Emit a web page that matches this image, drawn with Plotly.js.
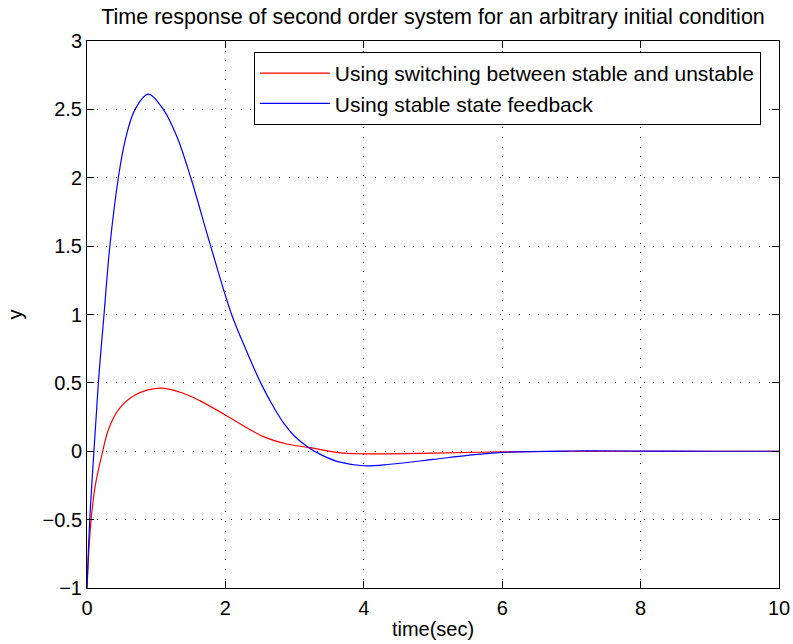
<!DOCTYPE html>
<html>
<head>
<meta charset="utf-8">
<script src="https://cdn.plot.ly/plotly-3.0.1.min.js"></script>
<style>html,body{margin:0;padding:0;background:#fff;}#chart{width:793px;height:644px;}</style>
</head>
<body>
<div id="chart"></div>
<script>
const tStable = [0, 0.04, 0.1, 0.164, 0.246, 0.332, 0.453, 0.55, 0.694, 0.886, 1.103, 1.3, 1.5, 1.787, 2.09, 2.3, 2.51, 2.7, 2.85, 3.0, 3.2, 3.4, 3.656, 4.0, 4.38, 5.0, 5.5, 6.0, 7, 8, 9, 10];
const yStable = [-1, -0.5, 0.0, 0.5, 1.0, 1.508, 2.0, 2.27, 2.5, 2.612, 2.5, 2.3, 2.0, 1.5, 1.0, 0.74, 0.5, 0.32, 0.2, 0.11, 0.028, -0.03, -0.08, -0.106, -0.095, -0.06, -0.03, -0.008, 0.002, 0.001, 0, 0];

const tSwitch = [0, 0.03, 0.06, 0.11, 0.164, 0.212, 0.308, 0.453, 0.694, 1.07, 1.416, 1.63, 2.066, 2.307, 2.548, 2.886, 3.198, 3.656, 3.99, 4.38, 5, 6, 7, 8, 10];
const ySwitch = [-1, -0.7, -0.5, -0.28, -0.137, -0.034, 0.155, 0.302, 0.411, 0.462, 0.419, 0.37, 0.245, 0.172, 0.107, 0.053, 0.028, -0.012, -0.019, -0.019, -0.013, -0.005, 0, 0, 0];

const seriesNames = ['Using switching between stable and unstable', 'Using stable state feedback'];
const xTicks = [0, 2, 4, 6, 8, 10];
const yTicks = [-1, -0.5, 0, 0.5, 1, 1.5, 2, 2.5, 3];

const font = {family: 'Liberation Sans, Arial, sans-serif', size: 20, color: '#000'};

const traces = [
  {x: tSwitch, y: ySwitch, name: seriesNames[0], mode: 'lines', line: {color: '#ff0000', width: 1.2, shape: 'spline', smoothing: 1}},
  {x: tStable, y: yStable, name: seriesNames[1], mode: 'lines', line: {color: '#0000ff', width: 1.2, shape: 'spline', smoothing: 1}}
];

const axisCommon = {
  showline: true, linecolor: '#000', linewidth: 1, mirror: 'ticks',
  ticks: 'inside', ticklen: 7, tickcolor: '#000',
  showgrid: true, gridcolor: '#000', griddash: '1px,8.6px', gridwidth: 1,
  zeroline: false, tickfont: font, automargin: false
};

const layout = {
  width: 793, height: 644,
  margin: {l: 87, r: 14, t: 41, b: 56},
  paper_bgcolor: '#fff', plot_bgcolor: '#fff',
  font: font,
  title: {text: 'Time response of second order system for an arbitrary initial condition', font: {family: font.family, size: 21.5, color: '#000'}, xref: 'paper', x: 0.5, xanchor: 'center', yref: 'container', y: 0.974, yanchor: 'middle'},
  xaxis: Object.assign({}, axisCommon, {range: [0, 10], tickvals: xTicks, ticklabelstandoff: 2, title: {text: 'time(sec)', font: font, standoff: 3}}),
  yaxis: Object.assign({}, axisCommon, {range: [-1, 3], tickvals: yTicks, title: {text: 'y', font: font, standoff: 14}}),
  legend: {x: 0.241, xanchor: 'left', y: 0.98, yanchor: 'top', bgcolor: '#fff', bordercolor: '#000', borderwidth: 1, itemwidth: 70, font: {family: font.family, size: 21, color: '#000'}, tracegroupgap: 0},
  showlegend: true
};

Plotly.newPlot('chart', traces, layout, {staticPlot: true});
</script>
</body>
</html>
